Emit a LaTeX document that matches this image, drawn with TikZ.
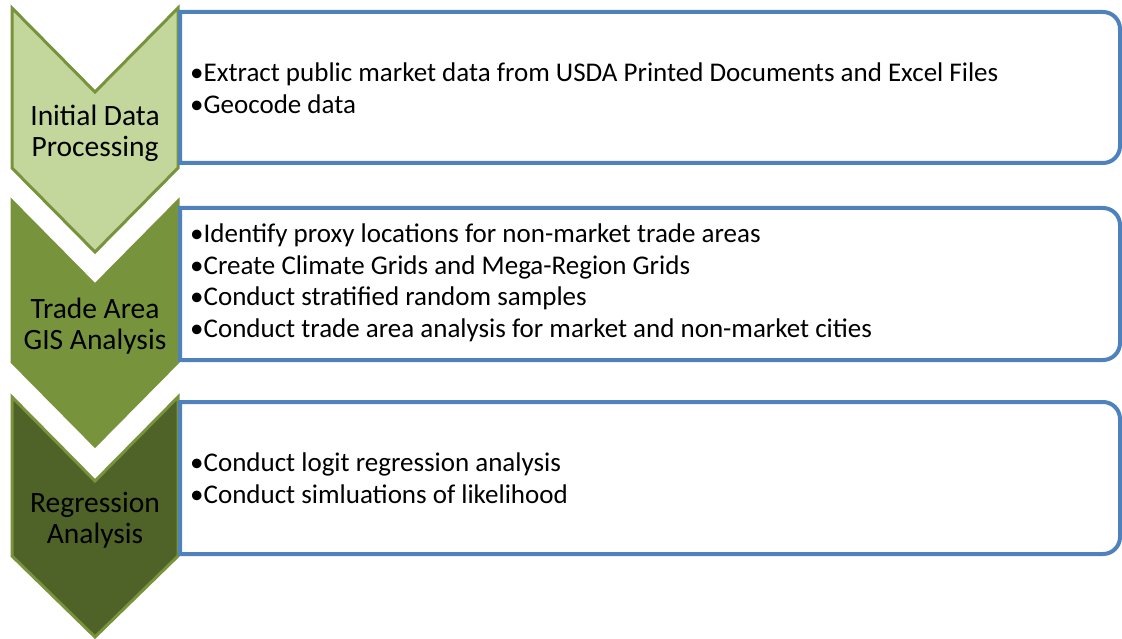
\documentclass[tikz,border=0pt]{standalone}
\usepackage{fontspec}
\setmainfont{Carlito}
\definecolor{leafLight}{HTML}{C3D69B}
\definecolor{leafMid}{HTML}{77933C}
\definecolor{leafDark}{HTML}{4F6228}
\definecolor{frameBlue}{HTML}{4F81BD}

\begin{document}
\begin{tikzpicture}[x=1pt,y=-1pt,
  chev/.style={draw=leafMid,line width=3pt,line join=miter},
  listbox/.style={draw=frameBlue,line width=4pt,fill=white},
  steplabel/.style={align=center,inner sep=0pt,font=\fontsize{29.5}{31}\selectfont},
  itemlist/.style={align=left,anchor=west,inner sep=0pt,font=\fontsize{27}{31.5}\selectfont}]
  \useasboundingbox (0,0) rectangle (1122,639);
  % chevrons
  \draw[chev,fill=leafLight] (12,8) -- (95,92) -- (178,8) -- (178,168) -- (95,252) -- (12,168) -- cycle;
  \draw[chev,fill=leafMid] (12,201) -- (95,285) -- (178,201) -- (178,362) -- (95,446) -- (12,362) -- cycle;
  \draw[chev,fill=leafDark] (12,397) -- (95,481) -- (178,397) -- (178,556) -- (95,637) -- (12,556) -- cycle;
  % text frames, right corners rounded
  \draw[listbox] (180,12) -- (1103,12) .. controls (1112.4,12) and (1120,19.6) .. (1120,29) -- (1120,146) .. controls (1120,155.4) and (1112.4,163) .. (1103,163) -- (180,163) -- cycle;
  \draw[listbox] (180,208) -- (1103,208) .. controls (1112.4,208) and (1120,215.6) .. (1120,225) -- (1120,343) .. controls (1120,352.4) and (1112.4,360) .. (1103,360) -- (180,360) -- cycle;
  \draw[listbox] (180,402) -- (1103,402) .. controls (1112.4,402) and (1120,409.6) .. (1120,419) -- (1120,537) .. controls (1120,546.4) and (1112.4,554) .. (1103,554) -- (180,554) -- cycle;
  % step names
  \node[steplabel] (dataStep) at (95,133) {Initial Data\\Processing};
  \node[steplabel] (tradeStep) at (95,326) {Trade Area\\GIS Analysis};
  \node[steplabel] (regrStep) at (95,520) {Regression\\Analysis};
  % bullet lists
  \node[itemlist] (dataList) at (190,88) {•Extract public market data from USDA Printed Documents and Excel Files\\•Geocode data};
  \node[itemlist] (tradeList) at (190,283) {•Identify proxy locations for non-market trade areas\\•Create Climate Grids and Mega-Region Grids\\•Conduct stratified random samples\\•Conduct trade area analysis for market and non-market cities};
  \node[itemlist] (regrList) at (190,478) {•Conduct logit regression analysis\\•Conduct simluations of likelihood};
\end{tikzpicture}
\end{document}
